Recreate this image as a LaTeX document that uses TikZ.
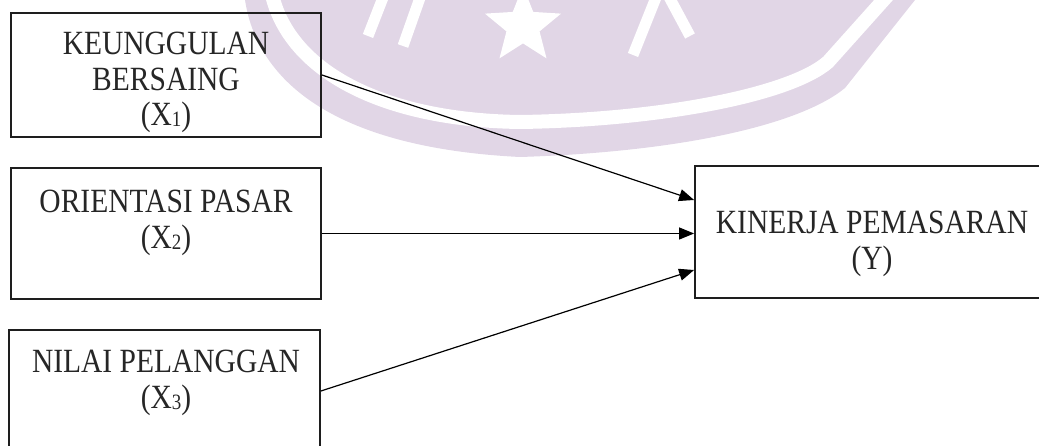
\documentclass[tikz,border=0pt]{standalone}
\usepackage{fontspec}
\setmainfont{Liberation Serif}
\usetikzlibrary{arrows.meta,shapes.geometric}
\definecolor{wm}{RGB}{225,214,230}
\definecolor{bord}{RGB}{30,30,30}
\newcommand{\vstretch}[1]{\scalebox{1}[1.15]{\begin{tabular}[t]{@{}c@{}}#1\end{tabular}}}
\newcommand{\mysub}[1]{\raisebox{-1.5pt}{\fontsize{19}{19}\selectfont #1}}
\begin{document}
\begin{tikzpicture}[x=1pt,y=-1pt,
  box/.style={draw=bord,line width=1.8pt,inner sep=0pt},
  lbl/.style={anchor=base,font=\fontsize{29.5}{30.5}\selectfont,inner sep=0pt,text=black!85},
  conn/.style={line width=1.2pt,-{Triangle[length=15pt,width=12pt]}},
  wmline/.style={white,line width=11pt}]
\useasboundingbox (0,0) rectangle (1039,446);
\clip (0,0) rectangle (1039,446);
% watermark
\fill[wm] (245,0) .. controls (258,85) and (340,148) .. (520,157) .. controls (680,152) and (800,125) .. (845,88) -- (915,0) -- cycle;
\draw[white,line width=14pt] (272,-5) .. controls (290,70) and (380,120) .. (520,122) .. controls (660,120) and (790,95) .. (828,62) -- (888,-5);
\node[star,star points=5,star point ratio=2.3,minimum size=80pt,fill=white,inner sep=0pt] (star) at (523,26) {};
\draw[wmline] (368,36) -- (384,-5);
\draw[wmline] (403,46) -- (421,-5);
\draw[wmline] (633,55) -- (657,-5);
\draw[wmline] (668,-5) -- (690,36);
% boxes
\node[box,minimum width=310pt,minimum height=124pt] (b1) at (166,75) {};
\node[box,minimum width=310pt,minimum height=131pt] (b2) at (166,233.5) {};
\node[box,minimum width=311pt,minimum height=122pt] (b3) at (164.5,391) {};
\node[box,minimum width=354pt,minimum height=132pt] (y) at (872,232) {};
% labels
\node[lbl] (t1) at (166,55) {\vstretch{KEUNGGULAN\\BERSAING\\(X\mysub{1})}};
\node[lbl] (t2) at (166,213) {\vstretch{ORIENTASI PASAR\\(X\mysub{2})}};
\node[lbl] (t3) at (166,373) {\vstretch{NILAI PELANGGAN\\(X\mysub{3})}};
\node[lbl] (ty) at (872,234) {\vstretch{KINERJA PEMASARAN\\(Y)}};
% connectors
\draw[conn] (b1.east) -- ([yshift=32pt]y.west);
\draw[conn] (b2.east) -- (b2.east -| y.west);
\draw[conn] (b3.east) -- ([yshift=-38pt]y.west);
\end{tikzpicture}
\end{document}
